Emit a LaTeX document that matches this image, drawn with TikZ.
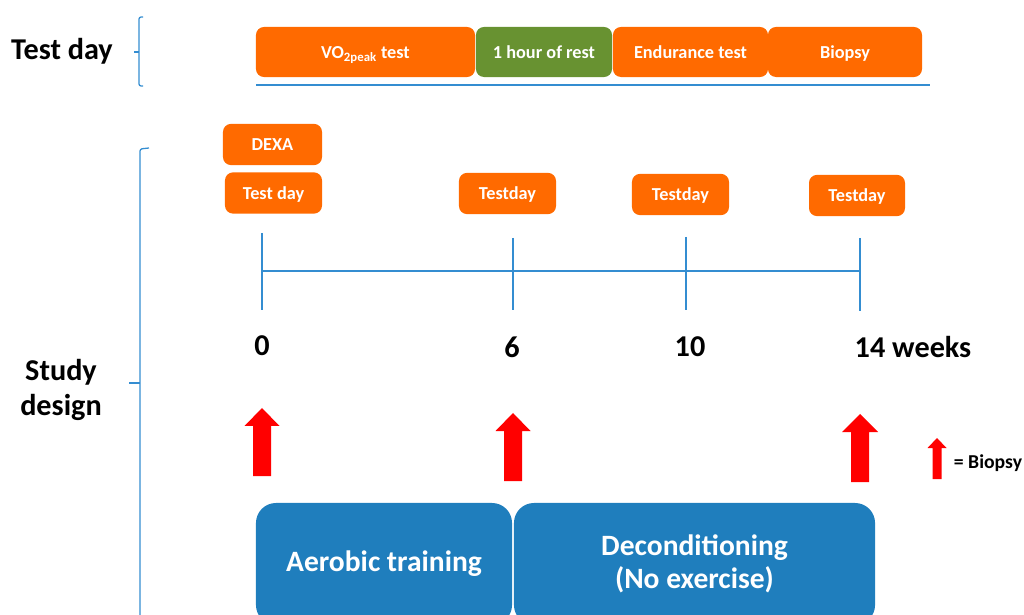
\documentclass[tikz,border=0pt]{standalone}
\usepackage{fontspec}
\setmainfont{Carlito}
\definecolor{boxorange}{RGB}{255,106,0}
\definecolor{restgreen}{RGB}{104,146,49}
\definecolor{phaseblue}{RGB}{31,126,189}
\definecolor{lineblue}{RGB}{52,141,209}
\begin{document}
\begin{tikzpicture}[x=0.025cm,y=-0.025cm,
    every node/.style={font=\bfseries},
    tbox/.style={fill=boxorange, text=white, rounded corners=0.2cm, minimum height=1.25cm,
      inner sep=0pt, text height=1.9ex, text depth=0pt, font=\bfseries\fontsize{13}{15}\selectfont},
    sbox/.style={tbox, minimum height=1.03cm},
    pbox/.style={fill=phaseblue, text=white, rounded corners=0.5cm, minimum height=3.05cm,
      inner sep=0pt, align=center, font=\bfseries\fontsize{21}{23.5}\selectfont},
    week/.style={font=\bfseries\fontsize{21.5}{24}\selectfont},
    side/.style={align=center, font=\bfseries\fontsize{21.5}{25.5}\selectfont},
    brace/.style={draw=lineblue, line width=0.9pt, rounded corners=1.5pt},
    tl/.style={draw=lineblue, line width=1.2pt},
    biop/.style={fill=red}]
  \clip (0,0) rectangle (1024,615);
  \node[side] (testlab) at (62,51) {Test day};
  \node[side] (studylab) at (61,390) {Study\\design};
  \node[tbox, minimum width=5.475cm] (vo2) at (365.5,52) {VO\textsubscript{2peak} test};
  \node[tbox, fill=restgreen, minimum width=3.4cm] (rest) at (544,52) {1 hour of rest};
  \node[tbox, minimum width=3.875cm] (endur) at (690.5,52) {Endurance test};
  \node[tbox, minimum width=3.85cm] (biopsy) at (845,52) {Biopsy};
  \node[sbox, minimum width=2.475cm] (dexa) at (272.5,144.5) {DEXA};
  \node[sbox, minimum width=2.425cm] (td0) at (273.5,193) {Test day};
  \node[sbox, minimum width=2.425cm] (td6) at (507.5,193.5) {Testday};
  \node[sbox, minimum width=2.425cm] (td10) at (680.5,194.5) {Testday};
  \node[sbox, minimum width=2.4cm] (td14) at (857,195.5) {Testday};
  \node[week] (w0) at (262,346) {0};
  \node[week] (w6) at (512,347) {6};
  \node[week] (w10) at (690,347) {10};
  \node[week] (w14) at (913,347) {14 weeks};
  \node[pbox, minimum width=6.4cm] (aerobic) at (384,564) {Aerobic training};
  \node[pbox, minimum width=9.025cm] (decond) at (694.5,564) {Deconditioning\\(No exercise)};
  \node[anchor=west, font=\bfseries\fontsize{14}{16}\selectfont] (legend) at (949,463) {= Biopsy};
  \coordinate (ul0) at (256,85);
  \coordinate (ul1) at (930,85);
  \coordinate (t0a) at (262,233);
  \coordinate (t0b) at (262,310);
  \coordinate (t6a) at (513,238);
  \coordinate (t6b) at (513,310);
  \coordinate (t10a) at (686,237);
  \coordinate (t10b) at (686,310);
  \coordinate (t14a) at (860,238);
  \coordinate (t14b) at (860,311);
  \coordinate (h0) at (262,271);
  \coordinate (h14) at (860,271);
  \begin{scope}[tl]
    \draw (ul0) -- (ul1);
    \draw (t0a) -- (t0b);
    \draw (t6a) -- (t6b);
    \draw (t10a) -- (t10b);
    \draw (t14a) -- (t14b);
    \draw (h0) -- (h14);
  \end{scope}
  \draw[brace] (143,17) -- (139,17) -- (139,86) -- (143,86);
  \draw[brace] (139,52) -- (134,52);
  \draw[brace] (149,148) -- (140,149) -- (140,630);
  \draw[brace] (140,383) -- (129,383);
  \fill[biop] (262,408) -- ++(17.5,18) -- ++(-8.5,0) -- ++(0,50) -- ++(-18,0) -- ++(0,-50) -- ++(-8.5,0) -- cycle;
  \fill[biop] (513,413) -- ++(17.5,18) -- ++(-8.5,0) -- ++(0,50) -- ++(-18,0) -- ++(0,-50) -- ++(-8.5,0) -- cycle;
  \fill[biop] (860,414) -- ++(18,18) -- ++(-9,0) -- ++(0,50) -- ++(-18,0) -- ++(0,-50) -- ++(-9,0) -- cycle;
  \fill[biop] (937,438) -- ++(9.5,10) -- ++(-5,0) -- ++(0,31) -- ++(-9,0) -- ++(0,-31) -- ++(-5,0) -- cycle;
\end{tikzpicture}
\end{document}
